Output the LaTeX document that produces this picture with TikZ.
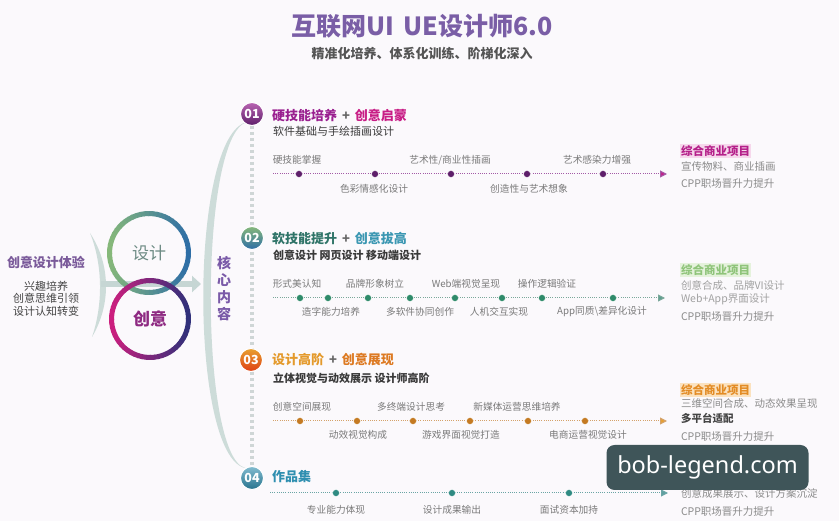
\documentclass[tikz,border=0pt]{standalone}
\usepackage{fontspec}
\setmainfont{Noto Sans CJK SC}
\newfontfamily\wmfont{Noto Sans}
\usetikzlibrary{arrows.meta,shapes.geometric}
\newcommand{\myfs}[1]{\fontsize{#1}{#1}\selectfont}

\definecolor{bg}{HTML}{FBF9FC}
\definecolor{titlec}{HTML}{7A5EA6}
\definecolor{subc}{HTML}{555555}
\definecolor{exc}{HTML}{7A5A9A}
\definecolor{darkc}{HTML}{444444}
\definecolor{arcc}{HTML}{CDDCD9}
\definecolor{garr}{HTML}{C6D6D4}
\definecolor{vdash}{HTML}{CFD6D6}
\definecolor{dsL}{HTML}{86B87A}
\definecolor{dsR}{HTML}{2E6EA6}
\definecolor{cyL}{HTML}{CC1F7E}
\definecolor{cyR}{HTML}{30307A}
\definecolor{dstext}{HTML}{6D8B84}
\definecolor{cytext}{HTML}{8E2A82}
\definecolor{hexc}{HTML}{7A5AA8}
\definecolor{lblc}{HTML}{7A7A7A}
\definecolor{subt}{HTML}{3A3A3A}
\definecolor{plusc}{HTML}{666666}
\definecolor{rc}{HTML}{8A8A8A}
% section colours
\definecolor{ca1}{HTML}{9A2090}\definecolor{cb1}{HTML}{C81E86}
\definecolor{ca2}{HTML}{2F7468}\definecolor{cb2}{HTML}{3B97B2}
\definecolor{ca3}{HTML}{E49A2C}\definecolor{cb3}{HTML}{DD7A22}
\definecolor{ca4}{HTML}{2F8FB0}
\definecolor{ln1}{HTML}{A35AA6}\definecolor{dt1}{HTML}{5E1F6A}\definecolor{ar1}{HTML}{C3208A}
\definecolor{ln2}{HTML}{7AA89A}\definecolor{dt2}{HTML}{2F8A6A}\definecolor{ar2}{HTML}{5E9E90}
\definecolor{ln3}{HTML}{D4A26A}\definecolor{dt3}{HTML}{C47A22}\definecolor{ar3}{HTML}{E8A030}
\definecolor{ln4}{HTML}{6AA5A5}\definecolor{dt4}{HTML}{2F8A82}\definecolor{ar4}{HTML}{5FA0A0}
\definecolor{rt1}{HTML}{B5208A}\definecolor{rf1}{HTML}{F6D8EC}
\definecolor{rt2}{HTML}{8FC47A}\definecolor{rf2}{HTML}{E5F2DC}
\definecolor{rt3}{HTML}{E38C25}\definecolor{rf3}{HTML}{FBE2BF}
\definecolor{rt4}{HTML}{2F8FA0}\definecolor{rf4}{HTML}{DCECEF}
\definecolor{wmc}{HTML}{3F5559}

\begin{document}
\begin{tikzpicture}[x=1pt,y=-1pt,
  every node/.style={inner sep=0pt, outer sep=0pt},
  lbl/.style={font=\myfs{9.7}, text=lblc},
  rtx/.style={font=\myfs{10.5}, text=rc, anchor=west},
  sect/.style={font=\myfs{13}\bfseries, anchor=west},
  subl/.style={font=\myfs{11}, text=subt, anchor=west},
  numc/.style={circle, minimum size=23pt, draw=white, line width=1pt, text=white, font=\myfs{12.5}\bfseries},
  tdot/.style={circle, minimum size=7pt, draw=white, line width=0.4pt},
  tline/.style={line width=1pt, dash pattern=on 1pt off 1.2pt},
  rtitle/.style={font=\myfs{11.5}\bfseries, anchor=west, inner sep=1pt},
  expl/.style={font=\myfs{11}, text=darkc}
]
\useasboundingbox (0,0) rectangle (839,521);
\fill[bg] (0,0) rectangle (839,521);

% ---- title ----
\node[font=\myfs{25}\bfseries, text=titlec] (title) at (422,26) {互联网UI\hspace{9pt}UE设计师6.0};
\node[font=\myfs{13}\bfseries, text=subc] (subtitle) at (422,54) {精准化培养、体系化训练、阶梯化深入};

% ---- left block ----
\node[font=\myfs{13}\bfseries, text=exc] (ex) at (46,262) {创意设计体验};
\node[expl] (ex1) at (46,286) {兴趣培养};
\node[expl] (ex2) at (46,298.5) {创意思维引领};
\node[expl] (ex3) at (46,311) {设计认知转变};

% small arc
\fill[arcc] (90,233) .. controls (111,265) and (111,305) .. (92,337)
            .. controls (103,305) and (103,265) .. (90,233) -- cycle;
% gray arrow
\coordinate (ga) at (101,284);
\coordinate (gb) at (201,284);
\draw[garr, line width=6.5pt, -{Triangle[length=9pt,width=16pt]}] (ga) -- (gb);

% circles
\node[circle, minimum size=79pt, font=\myfs{17}, text=dstext] (cd) at (149,253) {设计};
\foreach \a in {0,6,...,354}{
  \pgfmathsetmacro\p{50+50*cos(\a+3.5)}
  \draw[line width=5pt, draw=dsR!\p!dsL] ([shift={(\a:39.5pt)}]cd.center) arc[start angle=\a, delta angle=7, radius=39.5pt];
}
\node[circle, minimum size=77pt, font=\myfs{17}\bfseries, text=cytext] (cy) at (150,319) {创意};
\foreach \a in {0,6,...,354}{
  \pgfmathsetmacro\p{50+50*cos(\a+3.5)}
  \draw[line width=5pt, draw=cyR!\p!cyL] ([shift={(\a:38.5pt)}]cy.center) arc[start angle=\a, delta angle=7, radius=38.5pt];
}

% big arc
\fill[arcc] (247,122) .. controls (189,135) and (189,455) .. (245,468)
            .. controls (199,455) and (199,135) .. (247,122) -- cycle;

% core content
\node[font=\myfs{14}\bfseries, text=hexc] (k1) at (224,263) {核};
\node[font=\myfs{14}\bfseries, text=hexc] (k2) at (224,280) {心};
\node[font=\myfs{14}\bfseries, text=hexc] (k3) at (224,297) {内};
\node[font=\myfs{14}\bfseries, text=hexc] (k4) at (224,314) {容};

% vertical dashed spine, then number circles on top
\coordinate (vt) at (252,126);
\coordinate (vb) at (252,466);
\draw[vdash, line width=4pt, dash pattern=on 3.5pt off 2.5pt] (vt) -- (vb);
\node[numc, top color=ca1!70!white, bottom color=dt1] (n1) at (252,114) {01};
\node[numc, top color=dsL, bottom color=dsR] (n2) at (252,238) {02};
\node[numc, top color=ar3, bottom color=black!15!red!60!ar3] (n3) at (251,360) {03};
\node[numc, top color=ca4!60!white, bottom color=ca4!80!black] (n4) at (252,478) {04};

% ---- section 01 ----
\node[sect] (h1) at (272,115) {\textcolor{ca1}{硬技能培养}\hspace{5pt}\textcolor{plusc}{+}\hspace{5pt}\textcolor{cb1}{创意启蒙}};
\node[subl] (s1) at (273,131) {软件基础与手绘插画设计};
\coordinate (t1s) at (273,174);
\coordinate (t1e) at (667,174);
\draw[tline, ln1, -{Triangle[length=7pt,width=7pt,fill=ar1]}] (t1s) -- (t1e);
\foreach \x [count=\i] in {299,375,451,527,603}{
  \node[tdot, fill=dt1] (d1\i) at (\x,174) {};
}
\node[lbl] (l11) at (297,160) {硬技能掌握};
\node[lbl] (l12) at (450,160) {艺术性/商业性插画};
\node[lbl] (l13) at (597,160) {艺术感染力增强};
\node[lbl] (l14) at (374,189) {色彩情感化设计};
\node[lbl] (l15) at (529,189) {创造性与艺术想象};
\node[rtitle, text=rt1, fill=rf1] (r11) at (680,151) {综合商业项目};
\node[rtx] (r12) at (681,166) {宣传物料、商业插画};
\node[rtx] (r13) at (681,184) {CPP职场晋升力提升};

% ---- section 02 ----
\node[sect] (h2) at (272,238) {\textcolor{ca2}{软技能提升}\hspace{5pt}\textcolor{plusc}{+}\hspace{5pt}\textcolor{cb2}{创意拔高}};
\node[subl, font=\myfs{11}\bfseries] (s2) at (273,255) {创意设计 网页设计 移动端设计};
\coordinate (t2s) at (273,298);
\coordinate (t2e) at (665,298);
\draw[tline, ln2, -{Triangle[length=7pt,width=7pt,fill=ar2]}] (t2s) -- (t2e);
\foreach \x [count=\i] in {300,328,368,410,455,502,542,613}{
  \node[tdot, fill=dt2] (d2\i) at (\x,298) {};
}
\node[lbl] (l21) at (297,284) {形式美认知};
\node[lbl] (l22) at (375,284) {品牌形象树立};
\node[lbl] (l23) at (466,284) {Web端视觉呈现};
\node[lbl] (l24) at (547,284) {操作逻辑验证};
\node[lbl] (l25) at (331,312) {造字能力培养};
\node[lbl] (l26) at (420,312) {多软件协同创作};
\node[lbl] (l27) at (499,312) {人机交互实现};
\node[lbl] (l28) at (602,312) {App同质\textbackslash 差异化设计};
\node[rtitle, text=rt2, fill=rf2] (r21) at (680,270) {综合商业项目};
\node[rtx, text=rc!80!white] (r22) at (681,285.5) {创意合成、品牌VI设计};
\node[rtx, text=rc!80!white] (r23) at (681,299) {Web+App界面设计};
\node[rtx] (r24) at (681,317) {CPP职场晋升力提升};

% ---- section 03 ----
\node[sect] (h3) at (272,360) {\textcolor{ca3}{设计高阶}\hspace{5pt}\textcolor{plusc}{+}\hspace{5pt}\textcolor{cb3}{创意展现}};
\node[subl, font=\myfs{11}\bfseries] (s3) at (273,378) {立体视觉与动效展示 设计师高阶};
\coordinate (t3s) at (273,421);
\coordinate (t3e) at (667,421);
\draw[tline, ln3, -{Triangle[length=7pt,width=7pt,fill=ar3]}] (t3s) -- (t3e);
\foreach \x [count=\i] in {300,357,413,470,528,585}{
  \node[tdot, fill=dt3] (d3\i) at (\x,421) {};
}
\node[lbl] (l31) at (302,407) {创意空间展现};
\node[lbl] (l32) at (411,407) {多终端设计思考};
\node[lbl] (l33) at (517,407) {新媒体运营思维培养};
\node[lbl] (l34) at (358,435) {动效视觉构成};
\node[lbl] (l35) at (461,435) {游戏界面视觉打造};
\node[lbl] (l36) at (588,435) {电商运营视觉设计};
\node[rtitle, text=rt3, fill=rf3] (r31) at (680,390) {综合商业项目};
\node[rtx] (r32) at (681,404) {三维空间合成、动态效果呈现};
\node[rtx, text=darkc, font=\myfs{10.5}\bfseries] (r33) at (681,418) {多平台适配};
\node[rtx] (r34) at (681,437) {CPP职场晋升力提升};

% ---- section 04 ----
\node[sect, text=ca4] (h4) at (272,477) {作品集};
\coordinate (t4s) at (270,493);
\coordinate (t4e) at (668,493);
\draw[tline, ln4, -{Triangle[length=7pt,width=7pt,fill=ar4]}] (t4s) -- (t4e);
\foreach \x [count=\i] in {336,452,569}{
  \node[tdot, fill=dt4] (d4\i) at (\x,493) {};
}
\node[lbl] (l41) at (336,510) {专业能力体现};
\node[lbl] (l42) at (452,510) {设计成果输出};
\node[lbl] (l43) at (569,510) {面试资本加持};
\node[rtitle, text=rt4, fill=rf4] (r41) at (680,479) {综合商业项目};
\node[rtx] (r42) at (681,493) {创意成果展示、设计方案沉淀};
\node[rtx] (r43) at (681,512) {CPP职场晋升力提升};

% ---- watermark ----
\node[fill=wmc, rounded corners=8pt, minimum width=202pt, minimum height=45pt,
      text=white, font=\wmfont\myfs{23.5}] (wm) at (707.5,467.5) {bob-legend.com};
\end{tikzpicture}
\end{document}
